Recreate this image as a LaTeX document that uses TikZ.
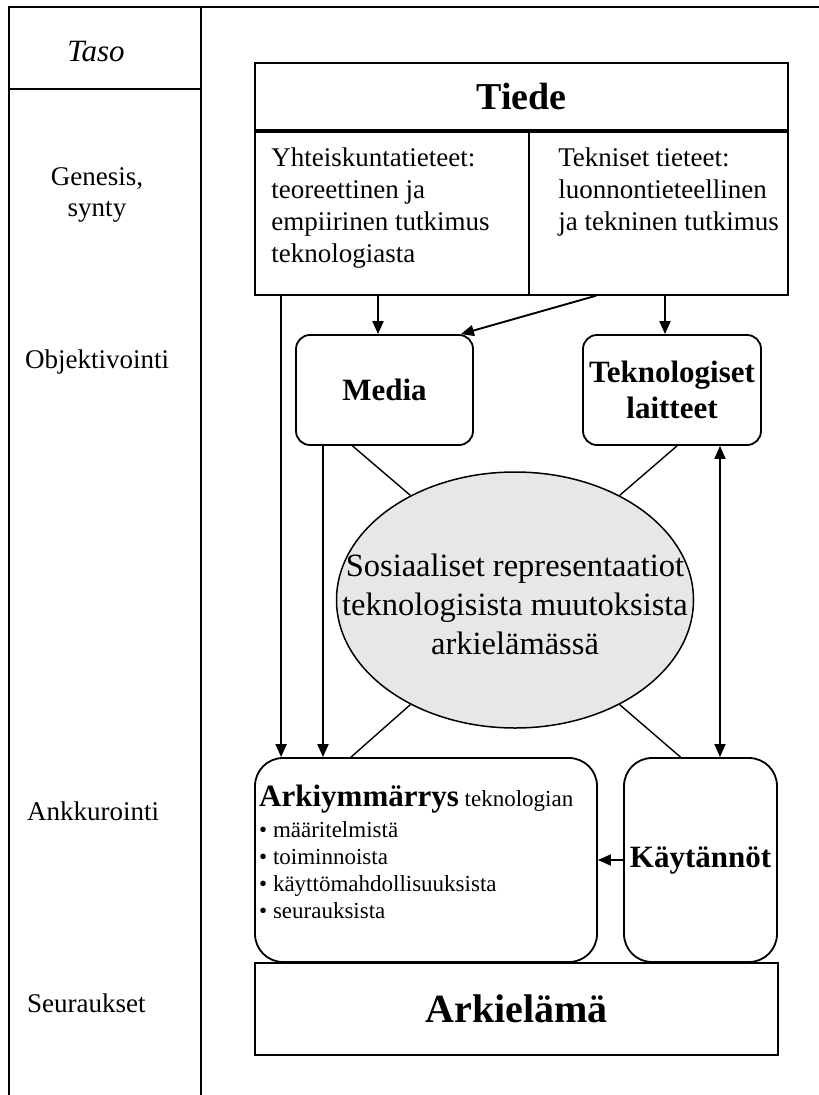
\documentclass[tikz,border=0pt]{standalone}
\usepackage{fontspec}
\setmainfont{Liberation Serif}
\definecolor{repgray}{RGB}{232,231,229}
\usetikzlibrary{arrows.meta,positioning,shapes.geometric,calc}

\tikzset{
  frame/.style={line width=1.8pt},
  box/.style={draw, line width=1.8pt, inner sep=2pt, align=center},
  rbox/.style={box, rounded corners=14pt},
  lvl/.style={font=\fontsize{27}{31}\selectfont, inner sep=0pt},
  coltext/.style={font=\fontsize{27}{32}\selectfont, align=left, inner sep=0pt, anchor=north west},
  heading/.style={font=\bfseries\fontsize{31}{36}\selectfont},
  arr/.style={line width=1.9pt, -{Triangle[length=13pt,width=11pt]}},
  tie/.style={line width=1.4pt},
}

\begin{document}
\begin{tikzpicture}[x=1pt,y=-1pt]
  \useasboundingbox (0,0) rectangle (819,1095);

  % Level column
  \draw[frame] (9,1095) -- (9,7) -- (819,7);
  \draw[frame] (201,7) -- (201,1095);
  \draw[frame] (9,89) -- (201,89);
  \node[lvl, font=\itshape\fontsize{31}{36}\selectfont, anchor=base] (taso) at (96,61) {Taso};
  \node[lvl, align=center] (genesis) at (97,195) {Genesis,\\synty};
  \node[lvl, anchor=base west] (obj) at (25,368) {Objektivointi};
  \node[lvl, anchor=base west] (ankk) at (27,820) {Ankkurointi};
  \node[lvl, anchor=base west] (seur) at (27,1012) {Seuraukset};

  % Science
  \node[box, font=\bfseries\fontsize{38}{44}\selectfont, minimum width=533pt, minimum height=67pt] (tiede) at (521.5,96.5) {Tiede};
  \node[box, anchor=north west, minimum width=274pt, minimum height=163pt] (yht) at (tiede.south west) {};
  \node[box, anchor=north east, minimum width=259pt, minimum height=163pt] (tek) at (tiede.south east) {};
  \node[coltext] (yhttxt) at ([xshift=17pt,yshift=-17pt]yht.north west) {Yhteiskuntatieteet:\\teoreettinen ja\\empiirinen tutkimus\\teknologiasta};
  \node[coltext] (tektxt) at ([xshift=30pt,yshift=-17pt]tek.north west) {Tekniset tieteet:\\luonnontieteellinen\\ja tekninen tutkimus};

  % Objectification
  \node[rbox, heading, minimum width=177pt, minimum height=110pt] (media) at (384.5,390) {Media};
  \node[rbox, heading, minimum width=178pt, minimum height=110pt] (tekno) at (672,390) {Teknologiset\\laitteet};

  % Social representations
  \node[ellipse, draw, line width=1.5pt, fill=repgray, minimum width=357pt, minimum height=256pt, inner sep=0pt] (rep) at (515,600) {};
  \node[align=center, inner sep=0pt, font=\fontsize{32.5}{39}\selectfont] (reptxt) at ([yshift=-4pt]rep.center) {Sosiaaliset representaatiot\\teknologisista muutoksista\\arkielämässä};

  % Anchoring
  \node[rbox, rounded corners=28pt, minimum width=342pt, minimum height=204pt] (arki) at (426,860) {};
  \node[anchor=north west, inner sep=0pt, align=left, font=\fontsize{23}{27}\selectfont] (arkitxt) at (259,785) {{\bfseries\fontsize{31}{36}\selectfont Arkiymmärrys} teknologian\\[4pt]
    \textbullet{} määritelmistä\\
    \textbullet{} toiminnoista\\
    \textbullet{} käyttömahdollisuuksista\\
    \textbullet{} seurauksista};
  \node[rbox, rounded corners=28pt, heading, minimum width=153pt, minimum height=204pt] (kay) at (700.5,860) {Käytännöt};

  % Consequences
  \node[box, font=\bfseries\fontsize{40}{48}\selectfont, minimum width=523pt, minimum height=92pt] (arkiela) at (516.5,1009) {Arkielämä};

  % Arrows
  \draw[arr] ([xshift=27pt]yht.south west) -- ([xshift=27pt]yht.south west |- arki.north);
  \draw[arr] ([xshift=-6.5pt]media.north |- yht.south) -- ([xshift=-6.5pt]media.north);
  \draw[arr] ([xshift=68pt]tek.south west) -- ([xshift=-13pt]media.north east);
  \draw[arr] ([xshift=-7pt]tekno.north |- tek.south) -- ([xshift=-7pt]tekno.north);
  \draw[arr] ([xshift=-61.5pt]media.south) -- ([xshift=-61.5pt]media.south |- arki.north);
  \draw[arr, {Triangle[length=13pt,width=11pt]}-{Triangle[length=13pt,width=11pt]}] ([xshift=48pt]tekno.south) -- ([xshift=48pt]tekno.south |- kay.north);
  \draw[arr] (kay.west) -- (arki.east);

  % Links to the ellipse
  \draw[tie] ([xshift=-32pt]media.south) -- (rep.135);
  \draw[tie] ([xshift=5pt]tekno.south) -- (rep.45);
  \draw[tie] (rep.225) -- ([xshift=-75pt]arki.north);
  \draw[tie] (rep.-45) -- ([xshift=-20pt]kay.north);
\end{tikzpicture}
\end{document}
